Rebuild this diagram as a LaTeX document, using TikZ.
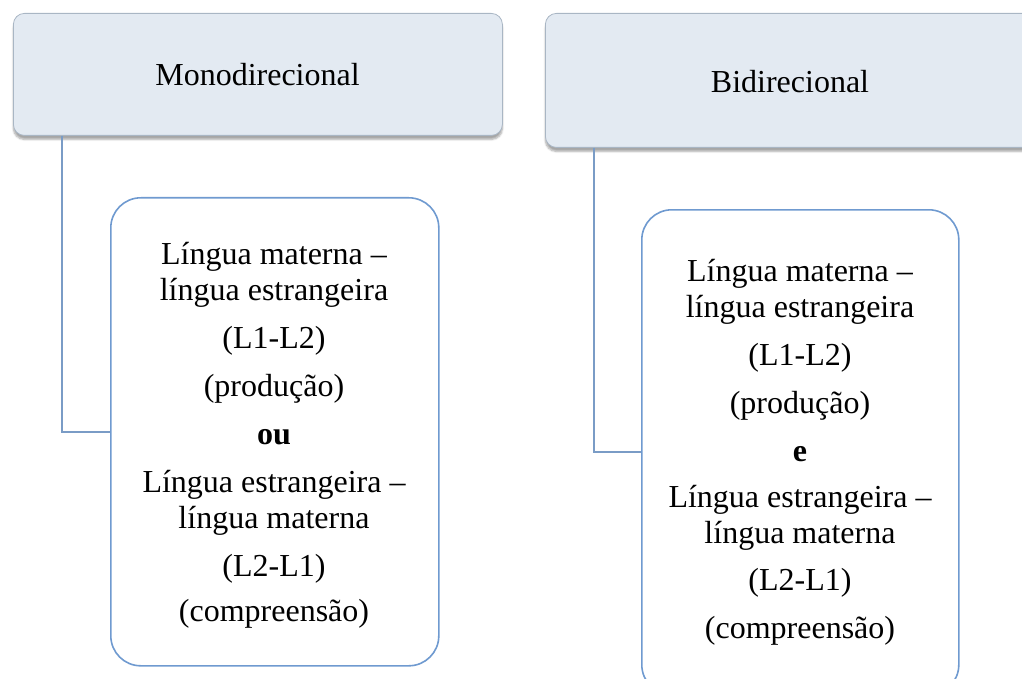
\documentclass[tikz,border=0pt]{standalone}
\usepackage{fontspec}
\setmainfont{Liberation Serif}
\usetikzlibrary{shadows.blur}
\definecolor{headfill}{HTML}{E3EAF2}
\definecolor{headline}{HTML}{A9B6C4}
\definecolor{boxline}{HTML}{6F9AD0}
\definecolor{linkline}{HTML}{7A9CC6}
\tikzset{
  headbox/.style={draw=headline, line width=0.8pt, fill=headfill, rounded corners=11pt,
    anchor=north west, inner sep=0pt,
    blur shadow={shadow xshift=0pt, shadow yshift=-4pt, shadow blur steps=6, shadow opacity=35}},
  itembox/.style={draw=boxline, line width=1.6pt, fill=white, rounded corners=30pt,
    anchor=north west, inner sep=0pt},
  txt/.style={font=\fontsize{32}{36}\selectfont, align=center, inner sep=0pt},
  link/.style={draw=linkline, line width=2pt},
}
\begin{document}
\begin{tikzpicture}[x=1pt,y=-1pt]
\useasboundingbox (0,0) rectangle (1022,679);
% top boxes
\node[headbox, minimum width=489pt, minimum height=122pt] (mono) at (13,13) {};
\node[txt] (monot) at (257.5,75) {Monodirecional};
\node[headbox, minimum width=500pt, minimum height=134pt] (bi) at (545,13) {};
\node[txt] (bit) at (790,82) {Bidirecional};
% lower boxes
\node[itembox, minimum width=328pt, minimum height=468pt] (l1) at (110,197) {};
\node[itembox, minimum width=317pt, minimum height=485pt] (l2) at (641,209) {};
\node[txt] (l1t) at (274,435) {Língua materna –\\língua estrangeira\\[12pt](L1-L2)\\[12pt](produção)\\[12pt]\textbf{ou}\\[12pt]Língua estrangeira –\\língua materna\\[12pt](L2-L1)\\[9pt](compreensão)};
\node[txt] (l2t) at (800,452.5) {Língua materna –\\língua estrangeira\\[12pt](L1-L2)\\[12pt](produção)\\[12pt]\textbf{e}\\[10pt]Língua estrangeira –\\língua materna\\[11pt](L2-L1)\\[12pt](compreensão)};
% connectors
\coordinate (c1) at ([xshift=49pt]mono.south west);
\coordinate (c2) at ([xshift=49pt]bi.south west);
\draw[link] (c1) |- (l1.west);
\draw[link] (c2) |- (l2.west);
\end{tikzpicture}
\end{document}
